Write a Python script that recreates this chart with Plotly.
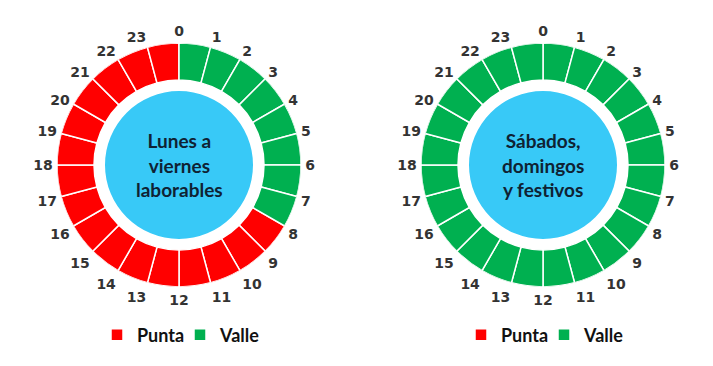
import plotly.graph_objects as go

hours = list(range(24))
hour_labels = [str(h) for h in hours]
weekday_period = ["Valle"] * 8 + ["Punta"] * 16
weekend_period = ["Valle"] * 24
center_texts = ["Lunes a<br>viernes<br>laborables", "Sábados,<br>domingos<br>y festivos"]
period_colors = {"Punta": "#FF0000", "Valle": "#00B050"}
periods = ["Punta", "Valle"]

# page body has an 8px margin: draw in a figure that fits inside it
OFF = 8
W, H = 713 - 2 * OFF, 366 - 2 * OFF
R_OUT, R_IN, R_CORE = 122, 85, 74
centers = [(179 - OFF, 165 - OFF), (543 - OFF, 165 - OFF)]
legend_x = [97 - OFF, 461 - OFF]
legend_y = 335 - OFF

fig = go.Figure()
schedules = [weekday_period, weekend_period]
for i, (sched, (cx, cy)) in enumerate(zip(schedules, centers)):
    polar = "polar" if i == 0 else "polar2"
    legend = "legend" if i == 0 else "legend2"
    # core circle
    fig.add_trace(go.Barpolar(
        r=[R_CORE], theta=[180], width=[360], base=0,
        marker=dict(color="#38C9F7", line=dict(width=0)),
        showlegend=False, hoverinfo="skip", subplot=polar))
    for p in periods:
        hs = [h for h, s in zip(hours, sched) if s == p]
        fig.add_trace(go.Barpolar(
            r=[R_OUT - R_IN] * len(hs) if hs else [None],
            base=R_IN,
            theta=[h * 15 + 7.5 for h in hs] if hs else [None],
            width=[15] * len(hs) if hs else [15],
            marker=dict(color=period_colors[p], line=dict(color="white", width=1.5)),
            name=p, legend=legend, subplot=polar, showlegend=True))
    fig.add_annotation(
        x=cx / W, y=1 - cy / H, xref="paper", yref="paper",
        xanchor="center", yanchor="middle",
        text=center_texts[i], showarrow=False,
        font=dict(family="Lato", size=19, color="#0F2233", weight="bold"))

polar_common = dict(
    bgcolor="white",
    radialaxis=dict(visible=False, range=[0, R_OUT]),
    angularaxis=dict(direction="clockwise", rotation=90, showgrid=False,
                     showline=False, ticks="outside", ticklen=1,
                     tickcolor="rgba(0,0,0,0)",
                     tickvals=[h * 15 for h in hours], ticktext=hour_labels,
                     tickfont=dict(family="DejaVu Sans", size=14, color="#333333", weight="bold")),
)

def dom(cx, cy):
    return dict(x=[(cx - R_OUT) / W, (cx + R_OUT) / W],
                y=[1 - (cy + R_OUT) / H, 1 - (cy - R_OUT) / H])

legend_common = dict(orientation="h", xanchor="left", yanchor="middle",
                     font=dict(family="Lato", size=18, color="#111111", weight="bold"),
                     itemwidth=30, entrywidth=38, bgcolor="rgba(0,0,0,0)")

fig.update_layout(
    width=W, height=H, margin=dict(l=0, r=0, t=0, b=0),
    paper_bgcolor="white", plot_bgcolor="white",
    polar=dict(domain=dom(*centers[0]), **polar_common),
    polar2=dict(domain=dom(*centers[1]), **polar_common),
    legend=dict(x=legend_x[0] / W, y=1 - legend_y / H, **legend_common),
    legend2=dict(x=legend_x[1] / W, y=1 - legend_y / H, **legend_common),
    barmode="overlay",
)

fig.write_html("out.html")
